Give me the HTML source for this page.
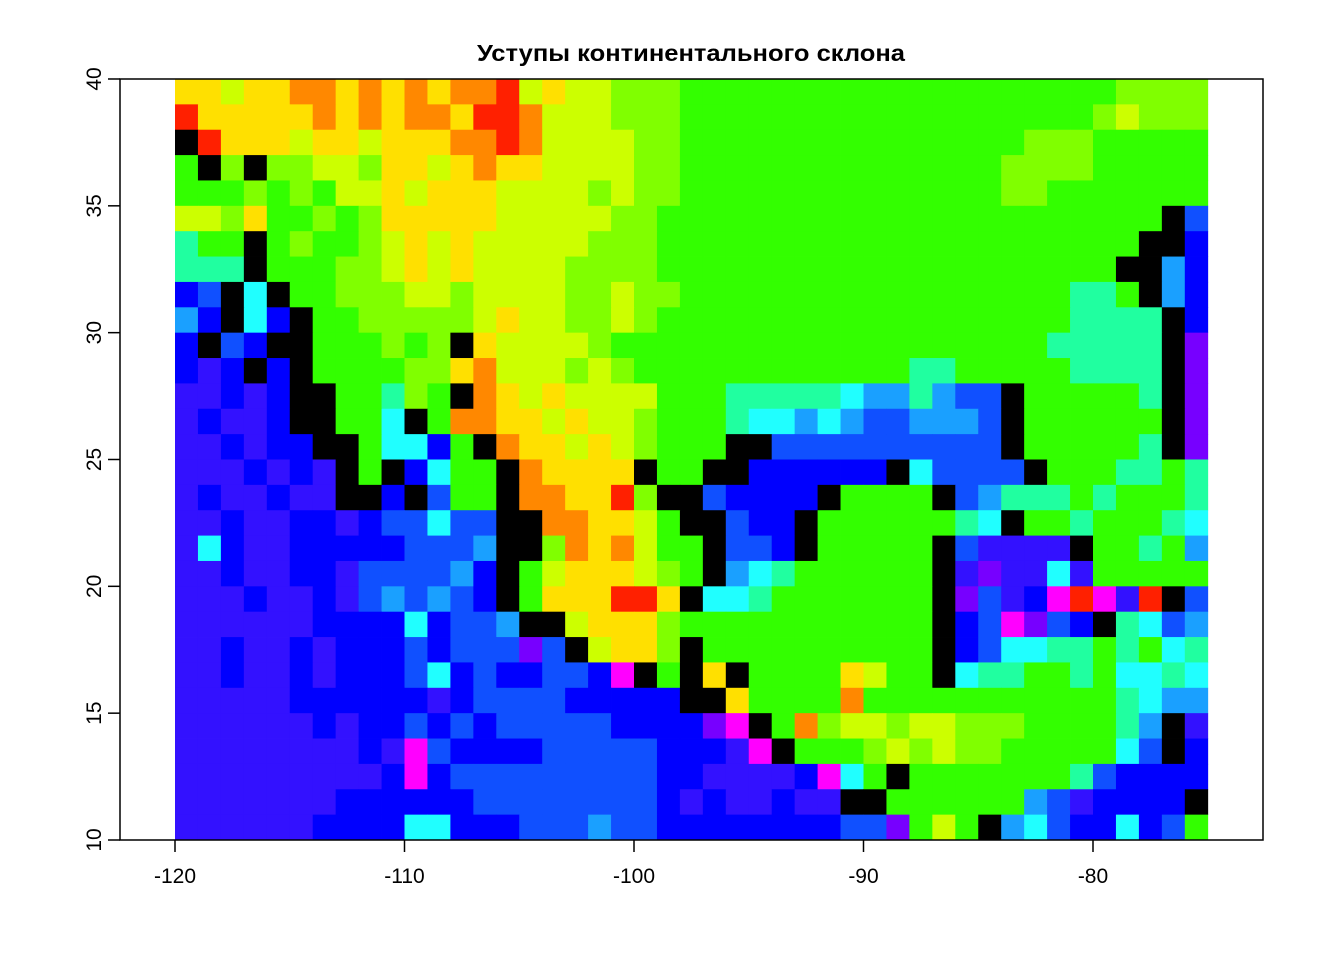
<!DOCTYPE html>
<html><head><meta charset="utf-8">
<style>
html,body{margin:0;padding:0;background:#fff;}
svg{display:block;font-family:"Liberation Sans",Arial,sans-serif;}
</style></head>
<body>
<svg id="chart" width="1344" height="960" viewBox="0 0 1344 960" xmlns="http://www.w3.org/2000/svg">
<rect width="1344" height="960" fill="#fff"/>
<text x="691" y="61" text-anchor="middle" font-size="23" font-weight="bold" textLength="428" lengthAdjust="spacingAndGlyphs">Уступы континентального склона</text>
<g id="cells"></g>
<rect x="120" y="79" width="1143" height="761" fill="none" stroke="#000" stroke-width="1.5"/>
<g id="axes"></g>
</svg>
<script>
const lonStart = -120;
const lonStep = 1;
const latTop = 40;
const latStep = 1;
const xTicks = [-120, -110, -100, -90, -80];
const yTicks = [10, 15, 20, 25, 30, 35, 40];
const palette = {K:"#000000",V:"#3311FF",B:"#0000FF",M:"#1050FF",L:"#1AA0FF",C:"#20FFFF",T:"#20FFA0",G:"#33FF00",H:"#80FF00",Z:"#CCFF00",O:"#FFE000",R:"#FF8800",X:"#FF2000",P:"#FF00FF",U:"#7700FF"};
const gridRows = [
"OOZOORRORORORRXZOZZHHHGGGGGGGGGGGGGGGGGGGHHHH",
"XOOOOORORORROXXRZZZHHHGGGGGGGGGGGGGGGGGGHZHHH",
"KXOOOZOOZOOORRXRZZZZHHGGGGGGGGGGGGGGGHHHGGGGG",
"GKHKHHZZHOOZOROOZZZZHHGGGGGGGGGGGGGGHHHHGGGGG",
"GGGHGHGZZOZOOOZZZZHZHHGGGGGGGGGGGGGGHHGGGGGGG",
"ZZHOGGHGHOOOOOZZZZZHHGGGGGGGGGGGGGGGGGGGGGGKM",
"TGGKGHGGHZOZOZZZZZHHHGGGGGGGGGGGGGGGGGGGGGKKB",
"TTTKGGGHHZOZOZZZZHHHHGGGGGGGGGGGGGGGGGGGGKKLB",
"BMKCKGGHHHZZHZZZZHHZHHGGGGGGGGGGGGGGGGGTTGKLB",
"LBKCBKGGHHHHHZOZZHHZHGGGGGGGGGGGGGGGGGGTTTTKB",
"BKMBKKGGGHGHKOZZZZHGGGGGGGGGGGGGGGGGGGTTTTTKU",
"BVBKBKGGGGHHORZZZHZHGGGGGGGGGGGGTTGGGGGTTTTKU",
"VVBVBKKGGTHGKROZOZZZZGGGTTTTTCLLTLMMKGGGGGTKU",
"VBVVBKKGGCKGRROOZOZZHGGGTCCLCLMMLLLMKGGGGGGKU",
"VVBVBBKKGCCBGKROOZOZHGGGKKMMMMMMMMMMKGGGGGTKU",
"VVVBVBVKGKBCGGKROOOOKGGKKBBBBBBKCMMMMKGGGTTGT",
"VBVVBVVKKBKMGGKRROOXHKKMBBBBKGGGGKMLTTTGTGGGT",
"VVBVVBBVBMMCMMKKRROOZGKKMBBKGGGGGGTCKGGTGGGTC",
"VCBVVBBBBBMMMLKKHRORZGGKMMBKGGGGGKMVVVVKGGTGL",
"VVBVVBBVMMMMLBKGZOOOZHGKLCTGGGGGGKVUVVCVGGGGG",
"VVVBVVBVMLMLMBKGOOOXXOKCCTGGGGGGGKUMVBPXPVXKM",
"VVVVVVBBBBCBMMLKKZOOOHGGGGGGGGGGGKBMPUMBKTCML",
"VVBVVBVBBBMBMMMUMKZOOHKGGGGGGGGGGKBMCCTTGTGCT",
"VVBVVBVBBBMCBMBBMMBPKGKOKGGGGOZGGKCTTGGTGCCTC",
"VVVVVBBBBBBVBMMMMBBBBBKKOGGGGRGGGGGGGGGGGTCLL",
"VVVVVVBVBBMBMBMMMMMBBBBUPKGRHZZHZZHHHGGGGTLKV",
"VVVVVVVVBVPMBBBBMMMMMBBBVPKGGGHZHZHHGGGGGCMKB",
"VVVVVVVVVBPBMMMMMMMMMBBVVVVBPCGKGGGGGGGTMBBBB",
"VVVVVVVBBBBBBMMMMMMMMBVBVVBVVKKGGGGGGLMVBBBBK",
"VVVVVVBBBBCCBBBMMMLMMBBBBBBBBMMUGZGKLCMBBCBMG"
];
const NS = "http://www.w3.org/2000/svg";
function xs(lon){ return 175 + (lon + 120) * 22.95; }
function ys(lat){ return 840 - (lat - 10) * 25.367; }
const cellsG = document.getElementById('cells');
gridRows.forEach((row, r) => {
  const lat1 = latTop - r * latStep, lat0 = lat1 - latStep;
  for (let c = 0; c < 45; c++) {
    const code = row[c] || row[row.length - 1];
    const lon0 = lonStart + c * lonStep, lon1 = lon0 + lonStep;
    const rect = document.createElementNS(NS, 'rect');
    
    
    rect.setAttribute('x', xs(lon0));
    rect.setAttribute('y', ys(lat1));
    rect.setAttribute('width', xs(lon1) - xs(lon0) + 0.4);
    rect.setAttribute('height', ys(lat0) - ys(lat1) + 0.4);
    rect.setAttribute('fill', palette[code] || '#33FF00');
    cellsG.appendChild(rect);
  }
});
const axesG = document.getElementById('axes');
xTicks.forEach(v => {
  const x = xs(v);
  const l = document.createElementNS(NS, 'line');
  
  
  l.setAttribute('x1', x); l.setAttribute('x2', x);
  l.setAttribute('y1', 840); l.setAttribute('y2', 852);
  l.setAttribute('stroke', '#000'); l.setAttribute('stroke-width', '1.5');
  axesG.appendChild(l);
  const t = document.createElementNS(NS, 'text');
  
  
  t.setAttribute('x', x); t.setAttribute('y', 883);
  t.setAttribute('text-anchor', 'middle'); t.setAttribute('font-size', '21');
  t.textContent = v;
  axesG.appendChild(t);
});
yTicks.forEach(v => {
  const y = ys(v);
  const l = document.createElementNS(NS, 'line');
  
  
  l.setAttribute('x1', 108); l.setAttribute('x2', 120);
  l.setAttribute('y1', y); l.setAttribute('y2', y);
  l.setAttribute('stroke', '#000'); l.setAttribute('stroke-width', '1.5');
  axesG.appendChild(l);
  const t = document.createElementNS(NS, 'text');
  
  
  t.setAttribute('x', 0); t.setAttribute('y', 0);
  t.setAttribute('text-anchor', 'middle'); t.setAttribute('font-size', '21');
  t.setAttribute('transform', 'translate(101,' + y + ') rotate(-90)');
  t.textContent = v;
  axesG.appendChild(t);
});
</script>
</body></html>
